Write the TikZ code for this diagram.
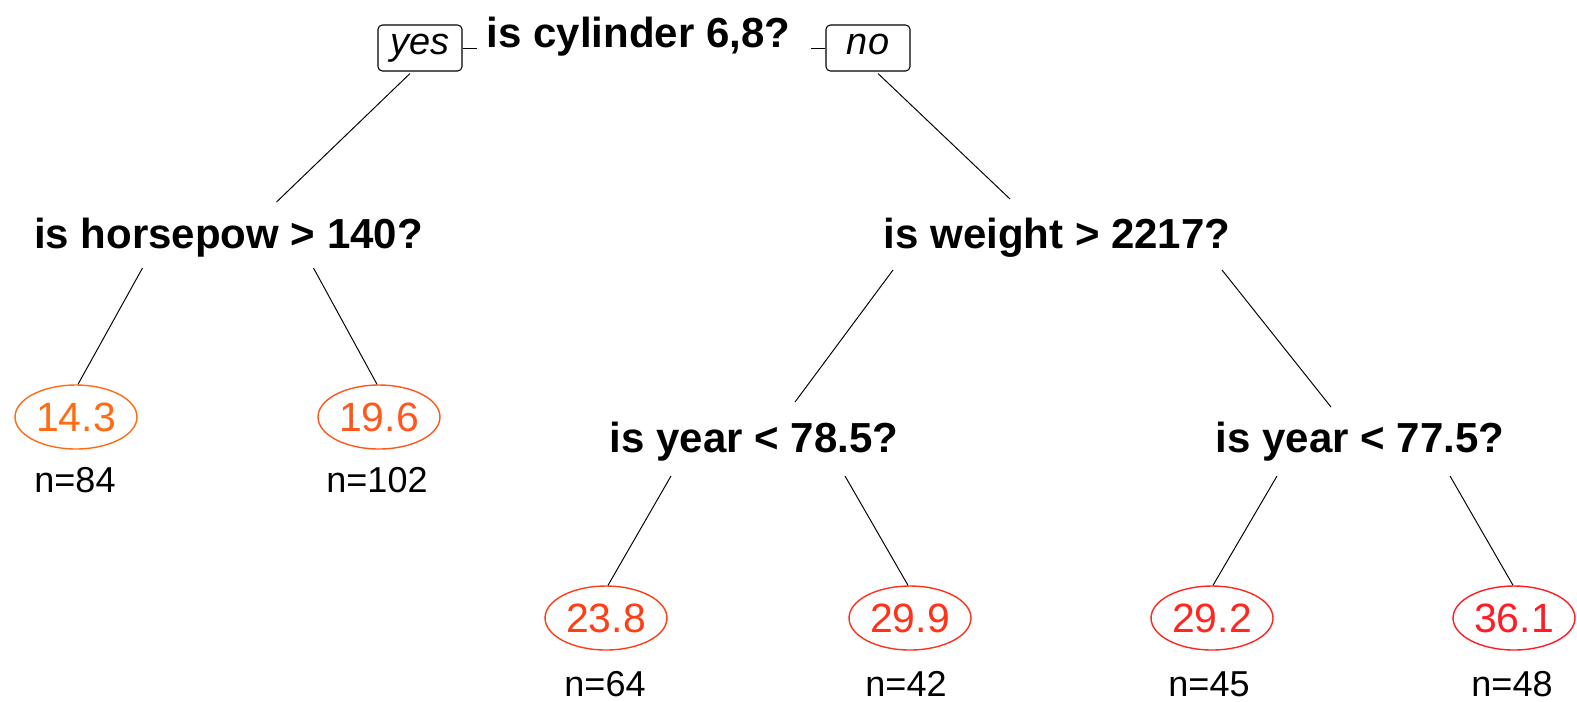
\documentclass[tikz,border=0pt]{standalone}
\usepackage{fontspec}
\setmainfont{Liberation Sans}
\usetikzlibrary{calc,shapes.geometric}
\definecolor{leafA}{RGB}{255,108,20}
\definecolor{leafB}{RGB}{255,88,28}
\definecolor{leafC}{RGB}{255,62,22}
\definecolor{leafD}{RGB}{255,50,26}
\definecolor{leafE}{RGB}{255,40,32}
\definecolor{leafF}{RGB}{255,28,36}
\tikzset{
  split/.style={anchor=base, inner sep=0pt, font=\fontsize{23.9}{28}\selectfont\bfseries},
  leaf/.style={ellipse, draw=#1, text=#1, line width=0.8pt, minimum width=2.44cm, minimum height=1.28cm, inner sep=0pt, font=\fontsize{23.3}{28}\selectfont},
  count/.style={anchor=base, inner sep=0pt, font=\fontsize{20.5}{24}\selectfont},
  answer/.style={draw=black, rounded corners=2.5pt, line width=0.6pt, minimum width=1.68cm, minimum height=0.92cm, inner sep=0pt, text height=11.5pt, text depth=4.5pt, font=\fontsize{21.6}{26}\selectfont\itshape},
  branch/.style={line width=0.55pt}
}

\begin{document}
\begin{tikzpicture}[x=0.02cm, y=-0.02cm]
\useasboundingbox (0,0) rectangle (1577,701);
% root
\node[split] (qroot) at (638.5,47) {is cylinder 6,8?};
\node[answer] (yes) at (420,48) {yes};
\node[answer] (no) at (868,48) {no};
\draw[branch] (yes.east) -- +(14,0);
\draw[branch] (no.west) -- +(-14,0);
% level 1
\node[split] (qhp) at (228.5,248) {is horsepow > 140?};
\node[split] (qwt) at (1057,248) {is weight > 2217?};
\draw[branch] ($(yes.south)+(-10,2)$) -- ($(qhp.base)+(48,-46)$);
\draw[branch] ($(no.south)+(10,2)$) -- ($(qwt.base)+(-47,-49)$);
% level 2
\node[leaf=leafA] (l1) at (76,417) {14.3};
\node[leaf=leafB] (l2) at (379,417) {19.6};
\node[count] (n1) at ($(l1)+(-1,75)$) {n=84};
\node[count] (n2) at ($(l2)+(-2,75)$) {n=102};
\node[split] (qyr1) at (754,452) {is year < 78.5?};
\node[split] (qyr2) at (1360,452) {is year < 77.5?};
\draw[branch] ($(qhp.base)+(-86,20)$) -- ($(l1.north)+(2,0)$);
\draw[branch] ($(qhp.base)+(85,20)$) -- ($(l2.north)+(-2,0)$);
\draw[branch] ($(qwt.base)+(-164,22)$) -- ($(qyr1.base)+(41,-50)$);
\draw[branch] ($(qwt.base)+(165,22)$) -- ($(qyr2.base)+(-29,-45)$);
% level 3
\node[leaf=leafC] (l3) at (606,618) {23.8};
\node[leaf=leafD] (l4) at (910,618) {29.9};
\node[leaf=leafE] (l5) at (1212,618) {29.2};
\node[leaf=leafF] (l6) at (1514,618) {36.1};
\node[count] (n3) at ($(l3)+(-1,78)$) {n=64};
\node[count] (n4) at ($(l4)+(-4,78)$) {n=42};
\node[count] (n5) at ($(l5)+(-3,78)$) {n=45};
\node[count] (n6) at ($(l6)+(-2,78)$) {n=48};
\draw[branch] ($(qyr1.base)+(-83,24)$) -- ($(l3.north)+(2,0)$);
\draw[branch] ($(qyr1.base)+(91,24)$) -- ($(l4.north)+(-2,0)$);
\draw[branch] ($(qyr2.base)+(-83,24)$) -- ($(l5.north)+(1,0)$);
\draw[branch] ($(qyr2.base)+(90,24)$) -- ($(l6.north)+(-1,0)$);
\end{tikzpicture}
\end{document}
